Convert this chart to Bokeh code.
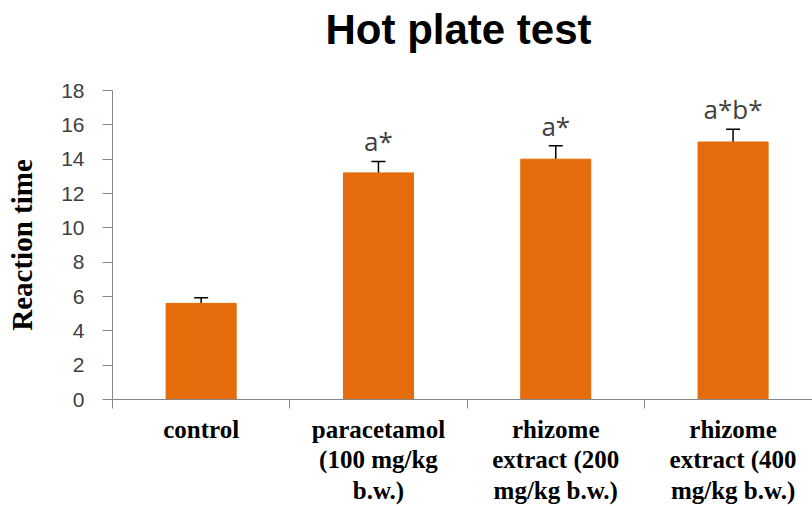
from bokeh.plotting import figure
from bokeh.models import ColumnDataSource, FixedTicker, TeeHead, Whisker, Range1d, Title
from bokeh.embed import file_html
from bokeh.resources import INLINE
from bokeh.core.properties import value

# ---- data ----
categories = ["control",
              "paracetamol (100 mg/kg b.w.)",
              "rhizome extract (200 mg/kg b.w.)",
              "rhizome extract (400 mg/kg b.w.)"]
tick_labels = ["control",
               "paracetamol\n(100 mg/kg\nb.w.)",
               "rhizome\nextract (200\nmg/kg b.w.)",
               "rhizome\nextract (400\nmg/kg b.w.)"]
means = [5.6, 13.2, 14.0, 15.0]
errors = [0.33, 0.67, 0.78, 0.75]
significance = ["", "a*", "a*", "a*b*"]
y_ticks = [0, 2, 4, 6, 8, 10, 12, 14, 16, 18]
title_text = "Hot plate test"
y_label = "Reaction time"

BAR = "#E46C0A"
AXIS = "#868686"
TXT = "#404040"

xs = [i + 0.5 for i in range(len(categories))]
bounds = [float(i) for i in range(len(categories) + 1)]
src = ColumnDataSource(dict(
    x=xs, means=means,
    upper=[m + e for m, e in zip(means, errors)],
    sig=significance,
))

p = figure(width=812, height=506, output_backend="svg", toolbar_location=None,
           x_range=Range1d(0, 3.948), y_range=Range1d(0, 18),
           min_border_left=112, min_border_right=0,
           min_border_top=90, min_border_bottom=106)
p.outline_line_color = None
p.grid.visible = False
p.background_fill_color = "white"
p.border_fill_color = "white"

# spacer panel between frame and title, then the title itself
p.add_layout(Title(text=" ", text_font_size="1px", standoff=35), "above")
p.add_layout(Title(text=title_text, text_font="Liberation Sans",
                   text_font_style="bold", text_font_size="42px",
                   text_color="black", align="left", offset=213,
                   standoff=0), "above")

p.vbar(x="x", top="means", width=0.395, source=src,
       fill_color=BAR, line_color=BAR)

p.add_layout(Whisker(source=src, base="x", upper="upper", lower="means",
                     dimension="height", line_color="black", line_width=1.5,
                     upper_head=TeeHead(size=14, line_color="black", line_width=1.5),
                     lower_head=None))

p.text(x="x", y="upper", text="sig", source=src, y_offset=-20,
       text_align="center", text_baseline="alphabetic",
       text_font=value("Open Sans"), text_font_size="26px",
       text_color=TXT)

# y axis
ya = p.yaxis[0]
ya.ticker = FixedTicker(ticks=y_ticks)
ya.minor_tick_line_color = None
ya.major_tick_in = 0
ya.major_tick_out = 10
ya.axis_line_color = AXIS
ya.major_tick_line_color = AXIS
ya.major_label_text_font = "Liberation Sans"
ya.major_label_text_font_size = "21px"
ya.major_label_text_color = TXT
ya.major_label_standoff = 18
ya.axis_label = y_label
ya.axis_label_text_font = "Liberation Serif"
ya.axis_label_text_font_style = "bold"
ya.axis_label_text_font_size = "29px"
ya.axis_label_text_color = "black"
ya.axis_label_standoff = 20

# x axis
xa = p.xaxis[0]
xa.ticker = FixedTicker(ticks=xs, minor_ticks=bounds)
xa.major_label_overrides = {x: t for x, t in zip(xs, tick_labels)}
xa.major_tick_in = 0
xa.major_tick_out = 0
xa.major_tick_line_color = None
xa.minor_tick_in = 0
xa.minor_tick_out = 9
xa.minor_tick_line_color = AXIS
xa.axis_line_color = AXIS
xa.major_label_text_font = "Liberation Serif"
xa.major_label_text_font_style = "bold"
xa.major_label_text_font_size = "25px"
xa.major_label_text_color = "black"
xa.major_label_text_line_height = 1.13
xa.major_label_standoff = 7

open("out.html", "w").write(file_html(p, INLINE))
